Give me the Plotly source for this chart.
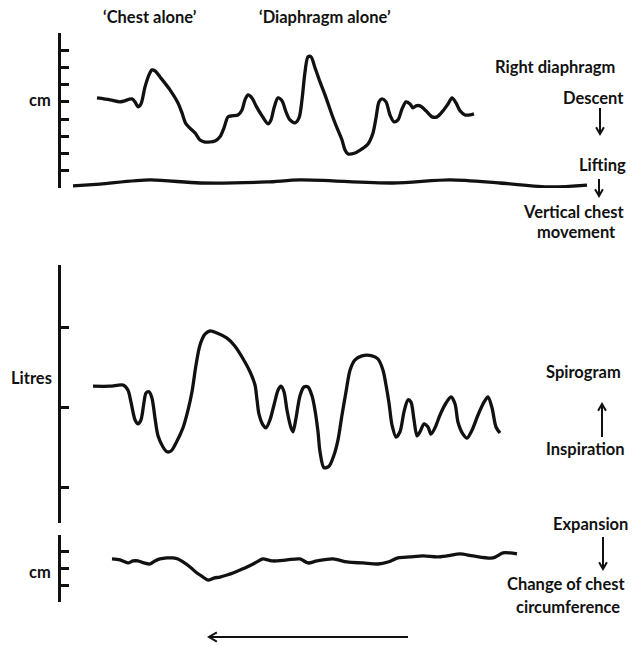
import math
import plotly.graph_objects as go

# ---------------- data (time in arbitrary units, signals in chart units) ----------------
diaph_t = [1.8, 2.45, 2.95, 3.55, 3.7, 3.85, 4.0, 4.2, 4.4, 4.55, 4.7, 4.95, 5.45, 5.85, 6.05, 6.25,
           6.7, 6.95, 7.2, 7.7, 7.95, 8.15, 8.35, 8.55, 8.85, 9.05, 9.2, 9.35, 9.55, 9.75, 10.05,
           10.35, 10.5, 10.65, 10.85, 11.05, 11.25, 11.45, 11.7, 11.9, 12.05, 12.2, 12.35, 12.5,
           12.7, 12.95, 13.2, 13.55, 13.8, 14.05, 14.2, 14.35, 14.7, 15.05, 15.35, 15.6, 15.75,
           15.9, 16.05, 16.25, 16.45, 16.65, 16.85, 17.05, 17.25, 17.45, 17.6, 17.75, 17.95,
           18.25, 18.55, 18.8, 19.1, 19.35, 19.55, 19.75, 19.95, 20.2, 20.45, 20.65]
diaph_cm = [5.23, 5.12, 5.0, 5.17, 5.0, 4.71, 4.88, 5.87, 6.57, 6.86, 6.80, 6.45, 5.70, 4.94, 4.36, 3.72,
            3.20, 2.79, 2.67, 2.73, 2.97, 3.49, 4.13, 4.19, 4.24, 4.53, 5.12, 5.41, 5.23, 4.77, 4.19,
            3.72, 3.95, 4.65, 5.23, 5.06, 4.42, 3.95, 3.78, 4.07, 5.12, 6.74, 7.62, 7.62,
            6.98, 6.16, 5.41, 4.24, 3.49, 2.79, 2.21, 1.98, 2.03, 2.27, 2.56, 3.20, 4.07,
            5.0, 5.17, 5.0, 4.24, 3.84, 3.95, 4.59, 5.0, 4.88, 4.65, 4.77, 4.77,
            4.48, 4.13, 4.13, 4.48, 4.88, 5.23, 4.94, 4.48, 4.24, 4.24, 4.30]

chest_vert_t = [0.6, 1.95, 4.45, 6.95, 10.3, 11.95, 16.6, 19.45, 21.95, 24.45, 26.3]
chest_vert_cm = [0.12, 0.23, 0.47, 0.29, 0.35, 0.47, 0.29, 0.47, 0.29, 0.06, 0.17]

spiro_t = [1.6, 2.45, 3.1, 3.35, 3.5, 3.7, 3.85, 4.0, 4.15, 4.25, 4.4, 4.55, 4.7, 4.85, 5.1, 5.3, 5.5,
           5.75, 6.1, 6.35, 6.55, 6.75, 6.95, 7.2, 7.45, 7.8, 8.3, 8.7, 9.05, 9.45, 9.7, 9.8, 9.9,
           10.1, 10.25, 10.45, 10.65, 10.85, 11.0, 11.15, 11.3, 11.5, 11.6, 11.75, 11.95, 12.15,
           12.35, 12.55, 12.7, 12.85, 12.95, 13.15, 13.4, 13.65, 13.85, 14.05, 14.25, 14.45, 14.7,
           15.05, 15.55, 15.85, 16.1, 16.25, 16.4, 16.55, 16.75, 16.95, 17.15, 17.35, 17.5, 17.65,
           17.8, 17.95, 18.15, 18.35, 18.5, 18.7, 18.95, 19.25, 19.5, 19.7, 19.85, 20.1, 20.3,
           20.55, 20.85, 21.15, 21.35, 21.55, 21.75, 21.95]
spiro_litres = [2.26, 2.26, 2.275, 2.21, 2.06, 1.84, 1.79, 1.84, 2.06, 2.175, 2.19, 2.11, 1.86, 1.64, 1.5,
                1.44, 1.45, 1.55, 1.74, 1.96, 2.19, 2.525, 2.775, 2.91, 2.95, 2.925, 2.86, 2.76, 2.625,
                2.44, 2.275, 2.09, 1.91, 1.775, 1.74, 1.84, 2.025, 2.21, 2.26, 2.19, 1.96, 1.74, 1.69,
                1.86, 2.14, 2.25, 2.25, 2.14, 1.96, 1.69, 1.44, 1.24, 1.26, 1.4, 1.59, 1.9, 2.19, 2.46,
                2.59, 2.64, 2.64, 2.6, 2.46, 2.275, 2.05, 1.775, 1.625, 1.69, 1.94, 2.09, 2.06, 1.84,
                1.64, 1.69, 1.79, 1.75, 1.66, 1.74, 1.9, 2.05, 2.125, 2.04, 1.81, 1.66, 1.61, 1.71,
                1.9, 2.06, 2.125, 1.99, 1.75, 1.675]

circ_t = [2.55, 2.95, 3.35, 3.6, 3.85, 4.15, 4.45, 4.7, 4.95, 5.3, 5.6, 5.85, 6.1, 6.45, 6.8, 7.1, 7.35,
          7.65, 7.95, 8.3, 8.6, 8.95, 9.3, 9.7, 10.1, 10.35, 10.6, 11.3, 11.95, 12.35, 12.8, 13.6,
          14.3, 15.1, 15.85, 16.35, 16.85, 17.45, 18.1, 18.8, 19.3, 19.95, 20.6, 21.6, 22.1, 22.45, 22.8]
circ_cm = [2.57, 2.51, 2.33, 2.45, 2.45, 2.33, 2.27, 2.45, 2.57, 2.63, 2.63, 2.57, 2.39, 2.09, 1.73,
           1.49, 1.31, 1.43, 1.49, 1.61, 1.73, 1.91, 2.09, 2.33, 2.57, 2.51, 2.45, 2.51, 2.57, 2.33,
           2.45, 2.57, 2.39, 2.33, 2.27, 2.39, 2.63, 2.69, 2.75, 2.69, 2.75, 2.87, 2.75, 2.63, 2.93,
           2.93, 2.87]

top_ticks = [0, 1, 2, 3, 4, 5, 6, 7, 8, 9]
mid_ticks = [1, 2, 3]
bot_ticks = [0, 1, 2, 3, 4]

# ---------------- figure ----------------
W, H = 635, 646
INK = "#111111"
FONT = "Lato"


def px(x):
    return x / W


def py(y):
    return 1 - y / H


fig = go.Figure()
line = dict(color=INK, width=3.3, shape="spline", smoothing=0.8)
fig.add_trace(go.Scatter(x=diaph_t, y=diaph_cm, mode="lines", line=line, xaxis="x", yaxis="y",
                         cliponaxis=False, hoverinfo="skip"))
fig.add_trace(go.Scatter(x=chest_vert_t, y=chest_vert_cm, mode="lines", line=line, xaxis="x", yaxis="y",
                         cliponaxis=False, hoverinfo="skip"))
fig.add_trace(go.Scatter(x=spiro_t, y=spiro_litres, mode="lines", line=line, xaxis="x2", yaxis="y2",
                         cliponaxis=False, hoverinfo="skip"))
fig.add_trace(go.Scatter(x=circ_t, y=circ_cm, mode="lines", line=line, xaxis="x3", yaxis="y3",
                         cliponaxis=False, hoverinfo="skip"))

xdom = [px(61), 1]
xr = [0, (W - 61) / 20]
xcommon = dict(domain=xdom, range=xr, visible=False, showgrid=False, zeroline=False)
ycommon = dict(showline=True, linecolor=INK, linewidth=3, ticks="inside", ticklen=8, tickwidth=3,
               tickcolor=INK, showticklabels=False, showgrid=False, zeroline=False)

fig.update_layout(
    width=W, height=H, margin=dict(l=0, r=0, t=0, b=0),
    paper_bgcolor="white", plot_bgcolor="white", showlegend=False,
    xaxis=dict(anchor="y", **xcommon),
    xaxis2=dict(anchor="y2", **xcommon),
    xaxis3=dict(anchor="y3", **xcommon),
    yaxis=dict(anchor="x", domain=[py(188), py(33)], range=[0, 9], tickvals=top_ticks, **ycommon),
    yaxis2=dict(anchor="x2", domain=[py(523), py(265)], range=[0.55, 3.775], tickvals=mid_ticks, **ycommon),
    yaxis3=dict(anchor="x3", domain=[py(602), py(535)], range=[0, 4], tickvals=bot_ticks, **ycommon),
)

labels = [
    ("\u2018Chest alone\u2019", 150, 17),
    ("\u2018Diaphragm alone\u2019", 325, 17),
    ("cm", 40, 100),
    ("Right diaphragm", 555, 67),
    ("Descent", 593, 98),
    ("Lifting", 602, 165),
    ("Vertical chest", 573, 212),
    ("movement", 576, 232),
    ("Litres", 31, 378),
    ("Spirogram", 583, 372),
    ("Inspiration", 585, 449),
    ("Expansion", 590, 524),
    ("cm", 40, 572),
    ("Change of chest", 566, 584),
    ("circumference", 568, 607),
]
for txt, x, y in labels:
    fig.add_annotation(text=txt, x=px(x), y=py(y), xref="paper", yref="paper", showarrow=False,
                       xanchor="center", yanchor="middle",
                       font=dict(family=FONT, size=16.5, color=INK, weight="bold"))


def arrow(x0, y0, x1, y1, head=6, width=2):
    # open V arrow from (x0,y0) to (x1,y1), pixel coordinates
    ang = math.atan2(y1 - y0, x1 - x0)
    a1 = ang + math.radians(150)
    a2 = ang - math.radians(150)
    hx1, hy1 = x1 + head * math.cos(a1) * 1.3, y1 + head * math.sin(a1) * 1.3
    hx2, hy2 = x1 + head * math.cos(a2) * 1.3, y1 + head * math.sin(a2) * 1.3
    path = (f"M {px(x0)},{py(y0)} L {px(x1)},{py(y1)} "
            f"M {px(hx1)},{py(hy1)} L {px(x1)},{py(y1)} L {px(hx2)},{py(hy2)}")
    fig.add_shape(type="path", path=path, xref="paper", yref="paper",
                  line=dict(color=INK, width=width))


arrow(600, 108, 600, 134)
arrow(599, 179, 599, 196)
arrow(602, 437, 602, 404)
arrow(603, 537, 603, 569)
arrow(408, 637, 209, 637, head=7)

fig.write_html("out.html", config={"displayModeBar": False},
               post_script="document.body.style.margin='0px';document.body.style.overflow='hidden';")
